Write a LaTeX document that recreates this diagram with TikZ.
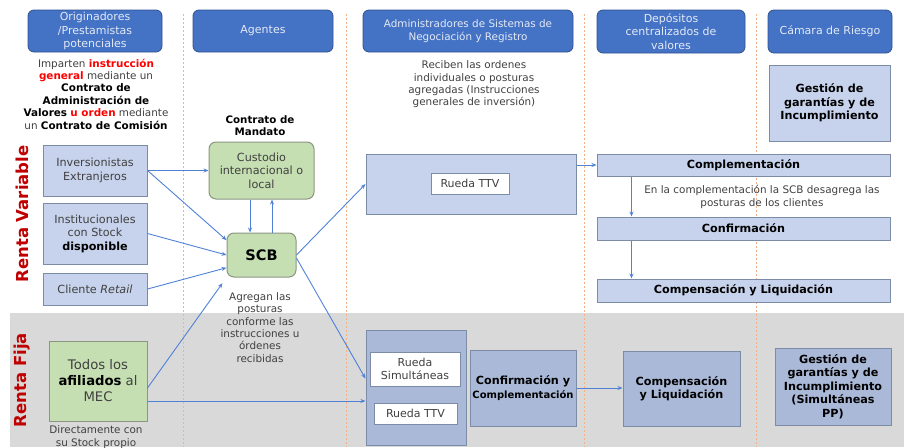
\documentclass[tikz,border=0pt]{standalone}
\usepackage{fontspec}
\setmainfont{DejaVu Sans}
\usetikzlibrary{arrows.meta,calc}

\definecolor{headblue}{HTML}{4472C4}
\definecolor{headline}{HTML}{2F528F}
\definecolor{lightblue}{HTML}{C7D3EC}
\definecolor{midblue}{HTML}{ABB9D8}
\definecolor{boxline}{HTML}{7D8CA6}
\definecolor{lightgreen}{HTML}{C5DFB3}
\definecolor{greenline}{HTML}{8A9682}
\definecolor{bandgray}{HTML}{D9D9D9}
\definecolor{dashorange}{HTML}{F4B183}
\definecolor{arrowblue}{HTML}{4F81D6}
\definecolor{txtgray}{HTML}{404040}
\definecolor{darkred}{HTML}{C00000}

\newcommand{\rojo}[1]{\textcolor{red}{\textbf{#1}}}
\newcommand{\negrita}[1]{\textcolor{black}{\textbf{#1}}}

\tikzset{
  dims/.style 2 args={minimum width=#1pt,minimum height=#2pt},
  header/.style={draw=headline,fill=headblue,rounded corners=6pt,line width=0.8pt,
    text=white!85!headblue,align=center,inner sep=0pt,font=\fontsize{11}{13.5}\selectfont},
  bluebox/.style={draw=boxline,fill=lightblue,line width=1pt,inner sep=0pt,
    align=center,text=txtgray,font=\fontsize{11.2}{13.5}\selectfont},
  boldbox/.style={bluebox,text=black,font=\fontsize{11.2}{13.5}\selectfont\bfseries},
  darkbox/.style={boldbox,fill=midblue},
  whitebox/.style={draw=boxline,fill=white,line width=0.8pt,inner sep=0pt,
    align=center,text=txtgray,font=\fontsize{11}{13.5}\selectfont},
  greenbox/.style={draw=greenline,fill=lightgreen,line width=1pt,inner sep=0pt,
    align=center,text=txtgray,font=\fontsize{11.2}{13.5}\selectfont},
  note/.style={align=center,text=txtgray,inner sep=0pt,font=\fontsize{10.4}{12.4}\selectfont},
  side/.style={rotate=90,text=darkred,font=\fontsize{16.5}{16.5}\selectfont\bfseries},
  arr/.style={draw=arrowblue,line width=0.9pt,-{Stealth[length=5pt,width=4pt]}},
  sep/.style={draw=dashorange,line width=1pt,dash pattern=on 2pt off 2pt}
}

\begin{document}
\begin{tikzpicture}[x=1pt,y=-1pt]
    \useasboundingbox (0,0) rectangle (904,447);
    % draw the grey band of renta fija
    \fill[bandgray] (10,313) rectangle (904,447);
    % draw the column separators
    \foreach \x in {183,346,584,756}
    \draw[sep] (\x,14) -- (\x,447);
    % draw the column headers
    \node[header,dims={134}{42}] (orig) at (95,31) {Originadores\\/Prestamistas\\potenciales};
    \node[header,dims={140}{42}] (agen) at (263,31) {Agentes};
    \node[header,dims={210}{42},font=\fontsize{10.4}{13.5}\selectfont] (admin) at (468,31) {Administradores de Sistemas de\\Negociación y Registro};
    \node[header,dims={148}{43}] (dep) at (671,31.5) {Depósitos\\centralizados de\\valores};
    \node[header,dims={124}{43}] (cam) at (830,31.5) {Cámara de Riesgo};
    % notes under the headers
    \node[note] (instr) at (96,94) {Imparten \rojo{instrucción}\\\rojo{general} mediante un\\\negrita{Contrato de}\\\negrita{Administración de}\\\negrita{Valores} \rojo{u orden} mediante\\un \negrita{Contrato de Comisión}};
    \node[note,text=black,font=\fontsize{10.3}{12.3}\selectfont\bfseries] (mand) at (260,126) {Contrato de\\Mandato};
    \node[note] (recib) at (474,84.5) {Reciben las ordenes\\individuales o posturas\\agregadas (Instrucciones\\generales de inversión)};
    \node[boldbox,dims={121}{76}] (gar) at (829.5,103) {Gestión de\\garantías y de\\Incumplimiento};
    % renta variable
    \node[side] (rv) at (22,214) {Renta Variable};
    \node[bluebox,dims={104}{51}] (inv) at (95,170.5) {Inversionistas\\Extranjeros};
    \node[bluebox,dims={104}{61}] (inst) at (95,233.5) {Institucionales\\con Stock\\\negrita{disponible}};
    \node[bluebox,dims={104}{32}] (cli) at (95,289) {Cliente \textit{Retail}};
    \node[greenbox,rounded corners=7pt,dims={105}{57}] (cus) at (261.5,170.5) {Custodio\\internacional o\\local};
    \node[greenbox,rounded corners=7pt,dims={69}{44},text=black,font=\fontsize{14.5}{16}\selectfont\bfseries] (scb) at (261.5,255) {SCB};
    \node[bluebox,dims={210}{60}] (rvrueda) at (471,184) {};
    \node[whitebox,dims={78}{21}] (rvttv) at (470,183.5) {Rueda TTV};
    \node[boldbox,dims={293}{22}] (comp) at (743.5,165) {Complementación};
    \node[note] (desag) at (762,197) {En la complementación la SCB desagrega las\\posturas de los clientes};
    \node[boldbox,dims={293}{23}] (conf) at (743.5,228.5) {Confirmación};
    \node[boldbox,dims={293}{23}] (liq) at (743.5,290.5) {Compensación y Liquidación};
    % renta fija
    \node[side] (rf) at (22,380) {Renta Fija};
    \node[greenbox,dims={98}{80},font=\fontsize{13.2}{16}\selectfont] (mec) at (98,381) {Todos los\\\negrita{afiliados} al\\MEC};
    \node[note] (direct) at (96,437) {Directamente con\\su Stock propio};
    \node[note] (agreg) at (260,327.5) {Agregan las\\posturas\\conforme las\\instrucciones u\\órdenes\\recibidas};
    \node[bluebox,fill=midblue,dims={100}{115}] (rfrueda) at (416,387.5) {};
    \node[whitebox,dims={90}{34}] (rfsim) at (415,369) {Rueda\\Simultáneas};
    \node[whitebox,dims={83}{21}] (rfttv) at (415.5,413.5) {Rueda TTV};
    \node[darkbox,dims={106}{76}] (rfconf) at (523,388) {Confirmación y\\{\fontsize{10}{12}\selectfont Complementación}};
    \node[darkbox,dims={117}{75}] (rfliq) at (681.5,388.5) {Compensación\\y Liquidación};
    \node[darkbox,dims={116}{77}] (rfgar) at (833,386.5) {Gestión de\\garantías y de\\Incumplimiento\\(Simultáneas\\PP)};
    % draw the connectors
    \draw[arr] (inv.east) -- (cus.west);
    \draw[arr] (inv.east) -- (scb.157);
    \draw[arr] (inst.east) -- (scb.west);
    \draw[arr] (cli.east) -- (scb.200);
    \draw[arr] ([xshift=-11.5pt]cus.south) -- ([xshift=-11.5pt]scb.north);
    \draw[arr] ([xshift=10.5pt]scb.north) -- ([xshift=10.5pt]cus.south);
    \draw[arr,shorten >=7pt] (mec.-8) -- (scb.south west);
    \draw[arr] (mec.-22) -- (mec.-22 -| rfrueda.west);
    \draw[arr] (scb.east) -- (rvrueda.west);
    \draw[arr] (scb.-5) -- (rfrueda.170);
    \draw[arr] (comp.west -| rvrueda.east) -- (comp.west);
    \draw[arr] ([xshift=35pt]comp.south west) -- ([xshift=35pt]conf.north west);
    \draw[arr] ([xshift=35pt]conf.south west) -- ([xshift=35pt]liq.north west);
    \draw[arr] (rfconf.east) -- (rfconf.east -| rfliq.west);
\end{tikzpicture}
\end{document}
